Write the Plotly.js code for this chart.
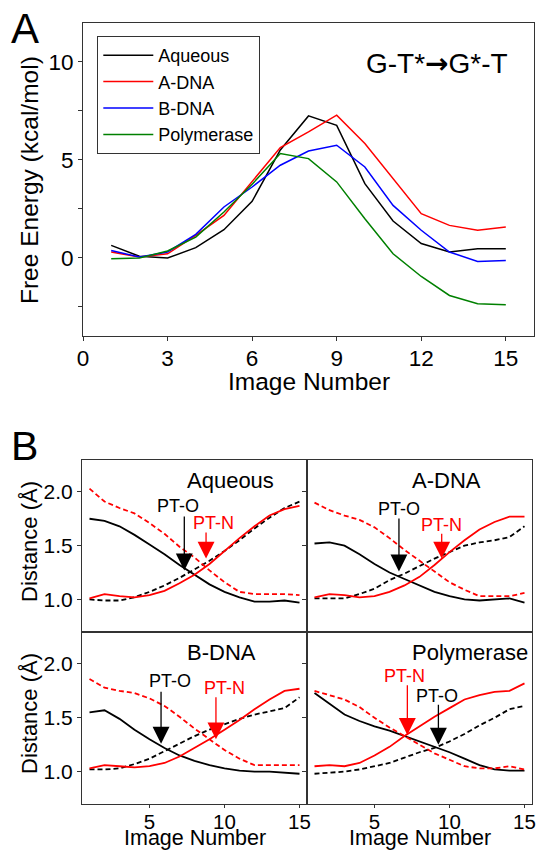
<!DOCTYPE html>
<html>
<head>
<meta charset="utf-8">
<script src="https://cdn.plot.ly/plotly-3.0.1.min.js"></script>
<style>
html,body{margin:0;padding:0;background:#fff;}
#chart{width:537px;height:850px;}
</style>
</head>
<body>
<div id="chart"></div>
<script>
// ---------- Panel A data ----------
const imageNumbers = [1,2,3,4,5,6,7,8,9,10,11,12,13,14,15];
const seriesNames = ['Aqueous','A-DNA','B-DNA','Polymerase'];
const energyAqueous    = [0.63, 0.07, -0.02, 0.51, 1.43, 2.88, 5.50, 7.24, 6.76, 3.78, 1.87, 0.72, 0.29, 0.46, 0.46];
const energyADNA       = [0.29, 0.03, 0.20, 1.14, 2.16, 3.87, 5.62, 6.42, 7.28, 5.83, 4.04, 2.25, 1.65, 1.40, 1.57];
const energyBDNA       = [0.37, 0.03, 0.29, 1.19, 2.59, 3.61, 4.72, 5.45, 5.74, 4.63, 2.67, 1.40, 0.29, -0.19, -0.14];
const energyPolymerase = [-0.05, -0.02, 0.34, 1.05, 2.33, 3.75, 5.32, 5.06, 3.87, 1.99, 0.20, -0.96, -1.93, -2.35, -2.40];
const energyTicksX = [0,3,6,9,12,15];
const energyTicksY = [-2.5,0,2.5,5,7.5,10];
const energyTickTextY = ['','0','','5','','10'];

// ---------- Panel B data (distances, Å) ----------
const aqueousOSolid = [1.75, 1.73, 1.68, 1.60, 1.51, 1.42, 1.32, 1.23, 1.14, 1.07, 1.02, 0.98, 0.98, 0.99, 0.97];
const aqueousODash  = [1.00, 0.99, 0.99, 1.02, 1.07, 1.13, 1.20, 1.28, 1.36, 1.45, 1.55, 1.66, 1.76, 1.85, 1.91];
const aqueousNSolid = [1.01, 1.05, 1.03, 1.02, 1.04, 1.08, 1.15, 1.23, 1.33, 1.45, 1.57, 1.68, 1.78, 1.84, 1.87];
const aqueousNDash  = [2.03, 1.91, 1.85, 1.80, 1.71, 1.61, 1.49, 1.39, 1.27, 1.16, 1.07, 1.05, 1.05, 1.05, 1.04];

const adnaOSolid = [1.52, 1.53, 1.50, 1.42, 1.33, 1.25, 1.19, 1.13, 1.07, 1.03, 1.00, 0.99, 1.00, 1.01, 0.97];
const adnaODash  = [1.01, 1.01, 1.01, 1.05, 1.10, 1.18, 1.24, 1.31, 1.38, 1.44, 1.50, 1.53, 1.55, 1.58, 1.68];
const adnaNSolid = [1.02, 1.05, 1.04, 1.02, 1.03, 1.07, 1.13, 1.21, 1.32, 1.44, 1.55, 1.65, 1.72, 1.77, 1.77];
const adnaNDash  = [1.90, 1.83, 1.78, 1.74, 1.67, 1.57, 1.46, 1.36, 1.26, 1.16, 1.09, 1.03, 1.03, 1.03, 1.06];

const bdnaOSolid = [1.55, 1.57, 1.49, 1.39, 1.30, 1.22, 1.15, 1.10, 1.06, 1.03, 1.01, 1.00, 1.00, 0.99, 0.98];
const bdnaODash  = [1.02, 1.02, 1.03, 1.07, 1.12, 1.19, 1.26, 1.33, 1.39, 1.44, 1.49, 1.53, 1.56, 1.59, 1.69];
const bdnaNSolid = [1.03, 1.06, 1.05, 1.04, 1.05, 1.08, 1.14, 1.22, 1.30, 1.39, 1.48, 1.58, 1.67, 1.75, 1.77];
const bdnaNDash  = [1.86, 1.78, 1.75, 1.73, 1.68, 1.61, 1.51, 1.40, 1.30, 1.20, 1.12, 1.06, 1.06, 1.06, 1.06];

const polOSolid = [1.73, 1.63, 1.53, 1.47, 1.42, 1.38, 1.33, 1.28, 1.23, 1.18, 1.12, 1.06, 1.02, 1.01, 1.01];
const polODash  = [0.98, 0.99, 1.00, 1.02, 1.05, 1.08, 1.13, 1.18, 1.22, 1.28, 1.35, 1.43, 1.50, 1.58, 1.61];
const polNSolid = [1.05, 1.06, 1.05, 1.08, 1.15, 1.23, 1.33, 1.42, 1.51, 1.59, 1.67, 1.71, 1.74, 1.75, 1.82];
const polNDash  = [1.75, 1.71, 1.67, 1.60, 1.50, 1.41, 1.33, 1.25, 1.17, 1.11, 1.05, 1.03, 1.03, 1.05, 1.02];

const distanceTicksX = [5,10,15];
const distanceTicksY = [1.0,1.5,2.0];
const distanceTickText = ['1.0','1.5','2.0'];

// PT arrow markers: [panel, label, x, tipY, tailY, textX, textY]
const ptArrows = [
  ['Aqueous','PT-O', 7.32, 1.27, 1.79, 6.88, 1.87],
  ['Aqueous','PT-N', 8.77, 1.38, 1.64, 9.25, 1.71],
  ['A-DNA','PT-O', 6.63, 1.26, 1.77, 6.60, 1.845],
  ['A-DNA','PT-N', 9.48, 1.38, 1.63, 9.48, 1.69],
  ['B-DNA','PT-O', 5.77, 1.26, 1.76, 6.37, 1.84],
  ['B-DNA','PT-N', 9.43, 1.30, 1.71, 10.03, 1.78],
  ['Polymerase','PT-N', 7.19, 1.34, 1.82, 7.03, 1.885],
  ['Polymerase','PT-O', 9.26, 1.25, 1.64, 9.16, 1.705]
];

// ---------- styling ----------
const FONT = 'Liberation Sans, Arial, Helvetica, sans-serif';
const W = 537, H = 850;
const px = v => v / W;
const py = v => 1 - v / H;
const frame = '#333333';
const colorsA = ['#000000', '#ff0000', '#0000ff', '#008000'];
const energySeries = [energyAqueous, energyADNA, energyBDNA, energyPolymerase];

const traces = [];
energySeries.forEach((ys, i) => {
  traces.push({
    x: imageNumbers, y: ys, type: 'scatter', mode: 'lines',
    name: seriesNames[i], xaxis: 'x', yaxis: 'y',
    line: {color: colorsA[i], width: 1.5}
  });
});

const panelB = [
  {name: 'Aqueous',    ax: '2', data: [aqueousOSolid, aqueousODash, aqueousNSolid, aqueousNDash]},
  {name: 'A-DNA',      ax: '3', data: [adnaOSolid, adnaODash, adnaNSolid, adnaNDash]},
  {name: 'B-DNA',      ax: '4', data: [bdnaOSolid, bdnaODash, bdnaNSolid, bdnaNDash]},
  {name: 'Polymerase', ax: '5', data: [polOSolid, polODash, polNSolid, polNDash]}
];
const bStyles = [
  {color: '#000000', dash: 'solid'},
  {color: '#000000', dash: '5px,3px'},
  {color: '#ff0000', dash: 'solid'},
  {color: '#ff0000', dash: '5px,3px'}
];
panelB.forEach(p => {
  p.data.forEach((ys, k) => {
    traces.push({
      x: imageNumbers, y: ys, type: 'scatter', mode: 'lines',
      xaxis: 'x' + p.ax, yaxis: 'y' + p.ax, showlegend: false,
      hoverinfo: 'skip',
      line: {color: bStyles[k].color, dash: bStyles[k].dash, width: 1.8}
    });
  });
});

const baseAxis = {
  showline: true, mirror: true, linecolor: frame, linewidth: 1,
  showgrid: false, zeroline: false, ticks: 'outside', ticklen: 4, tickwidth: 1,
  tickcolor: frame, tickfont: {family: FONT, size: 21, color: '#000'}
};

const colL = [px(82), px(307)], colR = [px(307), px(532)];
const rowT = [py(631.7), py(459.6)], rowB = [py(803.9), py(631.7)];

const layout = {
  width: W, height: H,
  margin: {l: 0, r: 0, t: 0, b: 0},
  paper_bgcolor: '#fff', plot_bgcolor: '#fff',
  font: {family: FONT, color: '#000'},
  showlegend: true,
  legend: {
    x: px(97.3), y: py(36), xanchor: 'left', yanchor: 'top',
    bgcolor: '#fff', bordercolor: frame, borderwidth: 1,
    font: {family: FONT, size: 18, color: '#000'},
    itemwidth: 50
  },
  xaxis: Object.assign({}, baseAxis, {
    domain: [px(83), px(534)], range: [0, 16], anchor: 'y',
    tickvals: energyTicksX, ticklabelstandoff: -2,
    tickfont: {family: FONT, size: 22.5, color: '#000'}
  }),
  yaxis: Object.assign({}, baseAxis, {
    domain: [py(336), py(22.7)], range: [-4, 12], anchor: 'x',
    tickvals: energyTicksY, ticktext: energyTickTextY,
    tickfont: {family: FONT, size: 22.5, color: '#000'}
  }),
  annotations: [],
  shapes: []
};

const domains = {
  '2': [colL, rowT], '3': [colR, rowT], '4': [colL, rowB], '5': [colR, rowB]
};
Object.keys(domains).forEach(k => {
  const [dx, dy] = domains[k];
  const isLeft = (k === '2' || k === '4');
  const isBottom = (k === '4' || k === '5');
  layout['xaxis' + k] = Object.assign({}, baseAxis, {
    domain: dx, range: [0.5, 15.5], anchor: 'y' + k,
    tickvals: distanceTicksX, showticklabels: isBottom,
    ticks: isBottom ? 'outside' : '', ticklen: 3, ticklabelstandoff: -4,
    tickfont: {family: FONT, size: 20.5, color: '#000'}
  });
  layout['yaxis' + k] = Object.assign({}, baseAxis, {
    domain: dy, range: [0.7, 2.3], anchor: 'x' + k,
    tickvals: distanceTicksY, ticktext: distanceTickText,
    showticklabels: isLeft
  });
});

const ann = layout.annotations;
function paperText(text, x, y, size, extra) {
  ann.push(Object.assign({
    text: text, xref: 'paper', yref: 'paper', x: x, y: y,
    xanchor: 'center', yanchor: 'middle', showarrow: false,
    font: {family: FONT, size: size, color: '#000'}
  }, extra || {}));
}
// panel letters and titles
paperText('A', px(25), py(28.3), 42);
paperText('B', px(24), py(445.8), 41);
paperText('G-T*<span style="font-family:\'DejaVu Sans\'"><b>→</b></span>G*-T', px(436.7), py(63.3), 28);
paperText('Image Number', px(308.5), py(381), 24.5);
paperText('Free Energy (kcal/mol)', px(29), py(180), 24.5, {textangle: -90});
paperText('Distance (Å)', px(29), py(542), 22, {textangle: -90});
paperText('Distance (Å)', px(29), py(714), 22, {textangle: -90});
paperText('Image Number', px(194.5), py(837.6), 21.5);
paperText('Image Number', px(419.5), py(837.6), 21.5);

// panel names
panelB.forEach(p => {
  ann.push({
    text: p.name, xref: 'x' + p.ax, yref: 'y' + p.ax, x: 7.35, y: 2.11,
    xanchor: 'left', yanchor: 'middle', showarrow: false,
    font: {family: FONT, size: 22, color: '#000'}
  });
});

// PT arrows
const axOf = {};
panelB.forEach(p => { axOf[p.name] = p.ax; });
ptArrows.forEach(a => {
  const [panel, label, x, tipY, tailY, tx, ty] = a;
  const k = axOf[panel];
  const col = label === 'PT-N' ? '#ff0000' : '#000000';
  ann.push({
    xref: 'x' + k, yref: 'y' + k, axref: 'x' + k, ayref: 'y' + k,
    x: x, y: tipY, ax: x, ay: tailY, text: ' ',
    showarrow: true, arrowhead: 2, arrowsize: 2.6, arrowwidth: 1.3,
    arrowcolor: col, standoff: 0, startstandoff: 0,
    font: {family: FONT, size: 1, color: col}
  });
  ann.push({
    text: label, xref: 'x' + k, yref: 'y' + k, x: tx, y: ty,
    xanchor: 'center', yanchor: 'middle', showarrow: false,
    font: {family: FONT, size: 18, color: col}
  });
});

Plotly.newPlot('chart', traces, layout, {displayModeBar: false, staticPlot: true});
</script>
</body>
</html>
